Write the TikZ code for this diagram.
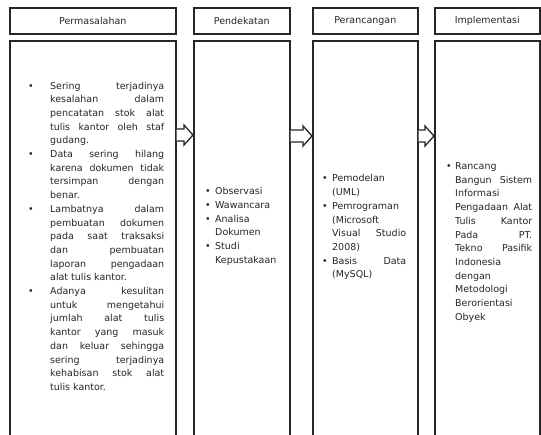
\documentclass[tikz,border=0pt]{standalone}
\usepackage{fontspec}
\setmainfont{DejaVu Sans}
\usepackage{enumitem}
\usepackage{tikz}
\usetikzlibrary{calc,positioning}

\hyphenpenalty=10000
\exhyphenpenalty=10000
\tolerance=10000
\hbadness=10000

\tikzset{
  judul/.style={draw=black!85, line width=1.6pt, anchor=north west, inner sep=0pt,
    minimum height=26pt, text=black!85, font=\fontsize{9.5}{13.7}\selectfont},
  isi/.style={draw=black!85, line width=1.6pt, anchor=north west, inner sep=0pt,
    minimum height=420pt},
  daftar/.style={anchor=west, inner sep=0pt, align=justify, text=black!85,
    font=\fontsize{9.5}{13.7}\selectfont},
  panah/.style={draw=black!85, line width=1.3pt, fill=white}
}

\begin{document}
\begin{tikzpicture}[x=1pt,y=-1pt]
  \clip (0,0) rectangle (541,434);
  \fill[white] (0,0) rectangle (541,434);

  % kolom judul
  \node[judul, minimum width=166pt] (j1) at (9,7) {Permasalahan};
  \node[judul, minimum width=96pt] (j2) at (193,7) {Pendekatan};
  \node[judul, minimum width=105pt] (j3) at (312,7) {Perancangan};
  \node[judul, minimum width=105pt] (j4) at (434,7) {Implementasi};

  % kotak isi
  \node[isi, minimum width=166pt] (i1) at (9,40) {};
  \node[isi, minimum width=96pt] (i2) at (193,40) {};
  \node[isi, minimum width=105pt] (i3) at (312,40) {};
  \node[isi, minimum width=105pt] (i4) at (434,40) {};

  % isi permasalahan
  \node[daftar, text width=136pt] (t1) at (28,233) {%
    \begin{itemize}[nosep, leftmargin=22pt, labelwidth=22pt, labelsep=0pt, align=left]
    \item Sering terjadinya\linebreak kesalahan dalam\linebreak pencatatan stok alat\linebreak tulis kantor oleh staf\linebreak gudang.
    \item Data sering hilang\linebreak karena dokumen tidak\linebreak tersimpan dengan\linebreak benar.
    \item Lambatnya dalam\linebreak pembuatan dokumen\linebreak pada saat traksaksi\linebreak dan pembuatan\linebreak laporan pengadaan\linebreak alat tulis kantor.
    \item Adanya kesulitan\linebreak untuk mengetahui\linebreak jumlah alat tulis\linebreak kantor yang masuk\linebreak dan keluar sehingga\linebreak sering terjadinya\linebreak kehabisan stok alat\linebreak tulis kantor.
    \end{itemize}};

  % isi pendekatan
  \node[daftar, text width=78pt] (t2) at (205,223) {%
    \begin{itemize}[nosep, leftmargin=10pt, labelwidth=10pt, labelsep=0pt, align=left]
    \item Observasi
    \item Wawancara
    \item Analisa\newline Dokumen
    \item Studi\newline Kepustakaan
    \end{itemize}};

  % isi perancangan
  \node[daftar, text width=84pt] (t3) at (322,224) {%
    \begin{itemize}[nosep, leftmargin=10pt, labelwidth=10pt, labelsep=0pt, align=left]
    \item Pemodelan\linebreak (UML)
    \item Pemrograman\linebreak (Microsoft\linebreak Visual Studio\linebreak 2008)
    \item Basis Data\linebreak (MySQL)
    \end{itemize}};

  % isi implementasi
  \node[daftar, text width=86pt] (t4) at (446,239) {%
    \begin{itemize}[nosep, leftmargin=9pt, labelwidth=9pt, labelsep=0pt, align=left]
    \item Rancang\linebreak Bangun Sistem\linebreak Informasi\linebreak Pengadaan Alat\linebreak Tulis Kantor\linebreak Pada PT.\linebreak Tekno Pasifik\linebreak Indonesia\linebreak dengan\linebreak Metodologi\linebreak Berorientasi\linebreak Obyek
    \end{itemize}};

  % panah blok
  \foreach \a/\b/\y in {i1/i2/135, i2/i3/136, i3/i4/136}{
    \draw[panah] ($(\a.east |- 0,\y)+(0,-6)$) -- ($(\b.west |- 0,\y)+(-9,-6)$)
      -- ($(\b.west |- 0,\y)+(-9,-10)$) -- (\b.west |- 0,\y)
      -- ($(\b.west |- 0,\y)+(-9,10)$) -- ($(\b.west |- 0,\y)+(-9,6)$)
      -- ($(\a.east |- 0,\y)+(0,6)$);
  }
\end{tikzpicture}
\end{document}
